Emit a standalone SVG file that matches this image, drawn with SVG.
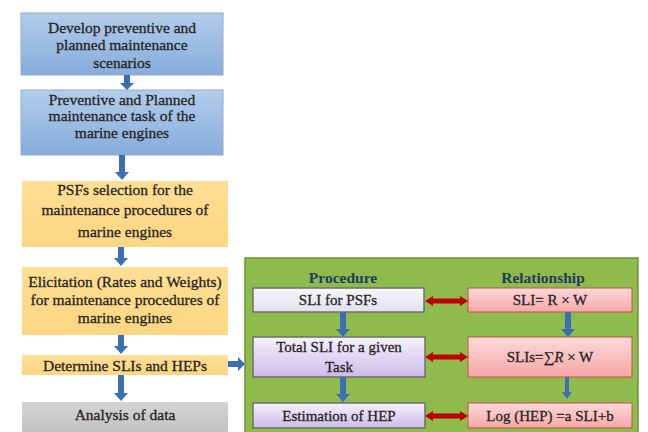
<svg xmlns="http://www.w3.org/2000/svg" width="648" height="432" viewBox="0 0 648 432">
<defs>
<linearGradient id="gBlue" x1="0" y1="0" x2="0" y2="1"><stop offset="0" stop-color="#b3cdeb"/><stop offset="1" stop-color="#86acdb"/></linearGradient>
<linearGradient id="gYel" x1="0" y1="0" x2="0" y2="1"><stop offset="0" stop-color="#fedf94"/><stop offset="1" stop-color="#fcd682"/></linearGradient>
<linearGradient id="gGray" x1="0" y1="0" x2="0" y2="1"><stop offset="0" stop-color="#d4d4d4"/><stop offset="1" stop-color="#c2c2c2"/></linearGradient>
<linearGradient id="gLav" x1="0" y1="0" x2="0" y2="1"><stop offset="0" stop-color="#f6f2fc"/><stop offset="1" stop-color="#cbbbe8"/></linearGradient>
<linearGradient id="gLav2" x1="0" y1="0" x2="0" y2="1"><stop offset="0" stop-color="#f7f6fb"/><stop offset="1" stop-color="#e2e0ee"/></linearGradient>
<linearGradient id="gPink" x1="0" y1="0" x2="0" y2="1"><stop offset="0" stop-color="#fcd9d9"/><stop offset="1" stop-color="#f5a7a6"/></linearGradient>
</defs>
<style>
.t{fill:#262626;stroke:#262626;stroke-width:0.3;text-anchor:middle;}
.h{fill:#1f3a63;font-weight:bold;text-anchor:middle;}
.blue{fill:url(#gBlue);stroke:#8eabd0;stroke-width:1;}
.yel{fill:url(#gYel);stroke:none;}
.gray{fill:url(#gGray);stroke:none;}
.lav{fill:url(#gLav);stroke:#6f6f6f;stroke-width:1.5;}
.lav2{fill:url(#gLav2);stroke:#6f6f6f;stroke-width:1.5;}
.pink{fill:url(#gPink);stroke:#c0504d;stroke-width:1;}
.ba{fill:#3c6eb3;}
.ra{fill:#c00000;}
</style>
<rect x="0" y="0" width="648" height="432" fill="#ffffff"/>
<g id="n1"><rect class="blue" x="21" y="13" width="202" height="62"/>
<text class="t" style="font-family:'Liberation Serif',serif;font-size:15.5px" x="122" y="33">Develop preventive and</text>
<text class="t" style="font-family:'Liberation Serif',serif;font-size:15.5px" x="122" y="50">planned maintenance</text>
<text class="t" style="font-family:'Liberation Serif',serif;font-size:15.5px" x="122" y="68">scenarios</text></g>
<g id="n2"><rect class="blue" x="21" y="90" width="202" height="65"/>
<text class="t" style="font-family:'Liberation Serif',serif;font-size:15.5px" x="122" y="105">Preventive and Planned</text>
<text class="t" style="font-family:'Liberation Serif',serif;font-size:15.5px" x="122" y="121">maintenance task of the</text>
<text class="t" style="font-family:'Liberation Serif',serif;font-size:15.5px" x="122" y="138">marine engines</text></g>
<g id="n3"><rect class="yel" x="22" y="181" width="206" height="66"/>
<text class="t" style="font-family:'Liberation Serif',serif;font-size:15.5px" x="125" y="195">PSFs selection for the</text>
<text class="t" style="font-family:'Liberation Serif',serif;font-size:15.5px" x="125" y="215">maintenance procedures of</text>
<text class="t" style="font-family:'Liberation Serif',serif;font-size:15.5px" x="125" y="237">marine engines</text></g>
<g id="n4"><rect class="yel" x="22" y="267" width="206" height="68"/>
<text class="t" style="font-family:'Liberation Serif',serif;font-size:15.5px" x="125" y="287">Elicitation (Rates and Weights)</text>
<text class="t" style="font-family:'Liberation Serif',serif;font-size:15.5px" x="125" y="305">for maintenance procedures of</text>
<text class="t" style="font-family:'Liberation Serif',serif;font-size:15.5px" x="125" y="323">marine engines</text></g>
<g id="n5"><rect class="yel" x="22" y="355" width="206" height="20"/>
<text class="t" style="font-family:'Liberation Serif',serif;font-size:15.5px" x="125" y="371">Determine SLIs and HEPs</text></g>
<g id="n6"><rect class="gray" x="22" y="402" width="206" height="32"/>
<text class="t" style="font-family:'Liberation Serif',serif;font-size:15.5px" x="125" y="420">Analysis of data</text></g>
<g id="panel"><rect x="245" y="258" width="393" height="180" fill="#8fbb4c" stroke="#6d9438" stroke-width="1.5"/>
<text class="h" style="font-family:'Liberation Serif',serif;font-size:15.5px" x="343" y="283">Procedure</text>
<text class="h" style="font-family:'Liberation Serif',serif;font-size:15.5px" x="543" y="283">Relationship</text></g>
<g id="p1"><rect class="lav2" x="253" y="288" width="171" height="24"/>
<text class="t" style="font-family:'Liberation Serif',serif;font-size:15px" x="338" y="305">SLI for PSFs</text></g>
<g id="p2"><rect class="lav" x="253" y="337" width="172" height="40"/>
<text class="t" style="font-family:'Liberation Serif',serif;font-size:15px" x="339" y="352">Total SLI for a given</text>
<text class="t" style="font-family:'Liberation Serif',serif;font-size:15px" x="339" y="372">Task</text></g>
<g id="p3"><rect class="lav" x="253" y="403" width="172" height="25"/>
<text class="t" style="font-family:'Liberation Serif',serif;font-size:15px" x="339" y="421">Estimation of HEP</text></g>
<g id="r1"><rect class="pink" x="468" y="288" width="164" height="24"/>
<text class="t" style="font-family:'Liberation Serif',serif;font-size:15px" x="550" y="305">SLI= R × W</text></g>
<g id="r2"><rect class="pink" x="468" y="337" width="164" height="40"/>
<text class="t" style="font-family:'Liberation Serif',serif;font-size:15px" x="550" y="362">SLIs=∑<tspan font-style="italic">R</tspan> × W</text></g>
<g id="r3"><rect class="pink" x="468" y="403" width="164" height="25"/>
<text class="t" style="font-family:'Liberation Serif',serif;font-size:15px" x="550" y="421">Log (HEP) =a SLI+b</text></g>
<g id="connectors">
<polygon class="ba" points="124,75 130,75 130,83 134,83 127,90 120,83 124,83"/>
<polygon class="ba" points="119,155 125,155 125,172 129,172 122,180 115,172 119,172"/>
<polygon class="ba" points="118,247 124,247 124,258 128,258 121,266 114,258 118,258"/>
<polygon class="ba" points="118,335 124,335 124,346 128,346 121,354 114,346 118,346"/>
<polygon class="ba" points="118,375 124,375 124,393 128,393 121,401 114,393 118,393"/>
<polygon class="ba" points="228,361 238,361 238,357 245,364 238,371 238,367 228,367"/>
<polygon class="ba" points="340,312 346,312 346,329 350,329 343,337 336,329 340,329"/>
<polygon class="ba" points="340,377 346,377 346,394 350,394 343,402 336,394 340,394"/>
<polygon class="ba" points="565,312 571,312 571,329 575,329 568,337 561,329 565,329"/>
<polygon class="ba" points="565,377 569,377 569,392 572,392 567,399 562,392 565,392"/>
<polygon class="ra" points="425,301 433,296 433,298.5 460,298.5 460,296 468,301 460,306 460,303.5 433,303.5 433,306"/>
<polygon class="ra" points="425,357 433,352 433,354.5 460,354.5 460,352 468,357 460,362 460,359.5 433,359.5 433,362"/>
<polygon class="ra" points="425,416 433,411 433,413.5 460,413.5 460,411 468,416 460,421 460,418.5 433,418.5 433,421"/>
</g>
</svg>
